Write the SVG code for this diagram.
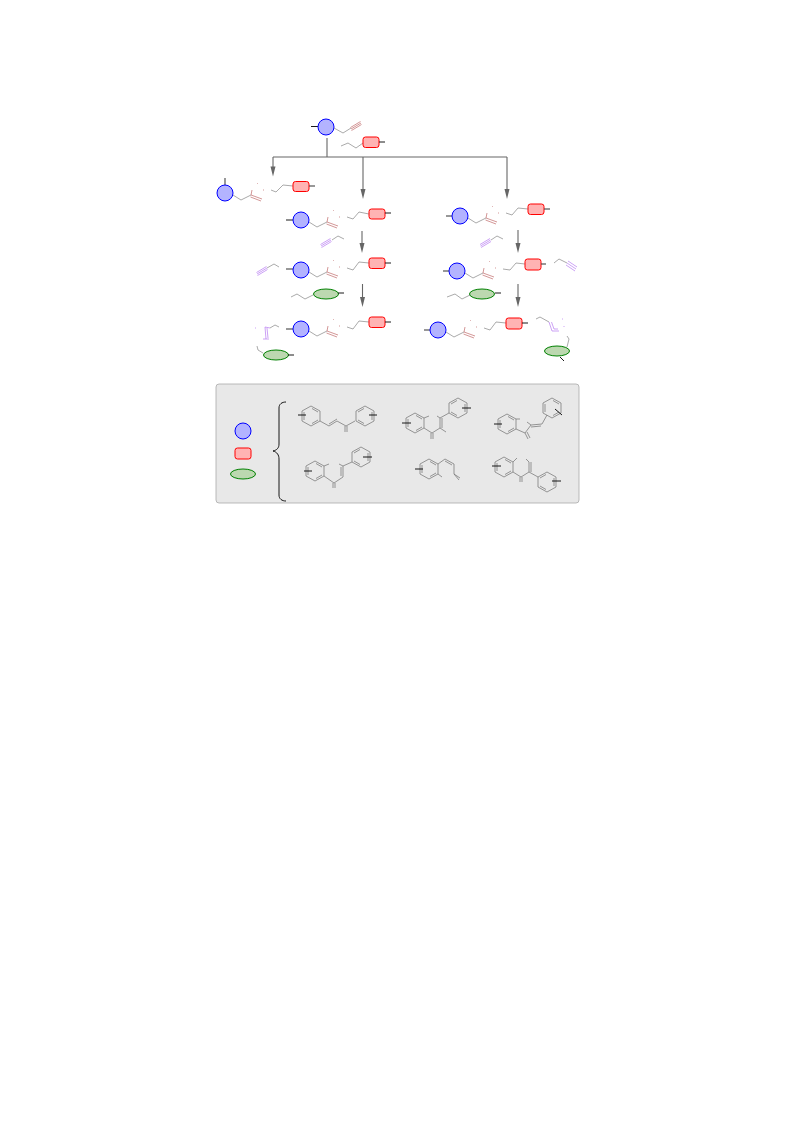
<svg xmlns="http://www.w3.org/2000/svg" width="793" height="1121" viewBox="0 0 793 1121">
<style>
.b{fill:#b3b3ff;stroke:#0000ff;stroke-width:1}
.r{fill:#ffb3b3;stroke:#ff0000;stroke-width:1}
.g{fill:#bcd8b0;stroke:#008000;stroke-width:1}
.t{fill:none;stroke:#000;stroke-width:.9}
.tg{fill:none;stroke:#444;stroke-width:1.1}
.c{fill:none;stroke:#707070;stroke-width:.6}
.m{fill:none;stroke:#c06a6a;stroke-width:.7}
.v{fill:none;stroke:#b070f0;stroke-width:.65}
.a{fill:none;stroke:#666;stroke-width:1.1}
.k{fill:none;stroke:#777;stroke-width:.75}
</style>
<defs>
<g id="core">
<path class="c" d="M8 2L16 7L26 2"/>
<path class="m" d="M26 2L27-3M26 2L37 6M25.500 4L36 8"/>
<path class="m" stroke-dasharray="1 1" d="M32-10L33-9M38-3L39-3"/>
</g>
<g id="hex"><path class="k" d="M0-10L9-5V5L0 10L-9 5V-5ZM1-7.500L7-4M7 4L1 7.500M-7 4V-4"/></g>
<g id="hexr"><path class="k" d="M0-10L9-5V5L0 10L-9 5V-5ZM-1-7.500L-7-4M-7 4L-1 7.500M7 4V-4"/></g>
<g id="triv"><path class="v" d="M0 0L10-6M.5 1.500L10.500-4.500M-.5-1.500L9.500-7.500"/></g>
</defs>

<g id="connectors">
<path class="a" d="M327 138V157M273 157H507"/>
<path class="a" d="M273 157V168"/><path d="M273 176.500L270.500 166.500H275.500Z" fill="#666"/>
<path class="a" d="M363 157V190"/><path d="M363 199L360.500 189H365.500Z" fill="#666"/>
<path class="a" d="M507 157V190"/><path d="M507 199L504.500 189H509.500Z" fill="#666"/>
<path class="a" d="M362 231V244"/><path d="M362 253L359.500 243H364.500Z" fill="#666"/>
<path class="a" d="M518 230V244"/><path d="M518 253L515.500 243H520.500Z" fill="#666"/>
<path class="a" d="M362.500 284V298"/><path d="M362.500 307L360 297H365Z" fill="#666"/>
<path class="a" d="M518 284V298"/><path d="M518 307L515.500 297H520.500Z" fill="#666"/>
</g>

<g id="n-top">
<path class="t" d="M311 126.500H318"/>
<circle class="b" cx="326" cy="127" r="8"/>
<path class="c" d="M334 128L343 133L351 128"/>
<path class="m" d="M351 129L361 123M351.500 130.500L361.500 124.500M350.500 127.500L360.500 121.500"/>
</g>
<g id="n-top-linker">
<path class="c" d="M341 146L348 143L356 148L363 143"/>
<rect class="r" x="363" y="137" width="16" height="10.500" rx="2.500"/>
<path class="t" d="M379 142H385"/>
</g>

<g id="n-a">
<path class="tg" d="M225 178V185"/>
<circle class="b" cx="225" cy="193" r="8"/>
<use href="#core" x="225" y="193"/>
<path class="c" d="M271 190L276 192L283 185L293 186"/>
<rect class="r" x="293" y="181.500" width="16" height="10" rx="2.500"/>
<path class="tg" d="M309 186H315"/>
</g>

<g id="n-b1">
<path class="t" d="M286 220H293"/>
<circle class="b" cx="301" cy="220" r="8"/>
<use href="#core" x="301" y="220"/>
<path class="c" d="M347 217L353 219L359 212L369 214"/>
<rect class="r" x="369" y="209" width="16" height="10" rx="2.500"/>
<path class="t" d="M385 213H391"/>
</g>
<g id="n-b1-alkyne">
<use href="#triv" x="321" y="246"/>
<path class="c" d="M332 240L338 236L344 239"/>
</g>

<g id="n-b2">
<path class="tg" d="M446 216H452"/>
<circle class="b" cx="460" cy="216" r="8"/>
<use href="#core" x="460" y="216"/>
<path class="c" d="M506 213L512 215L518 208L528 209"/>
<rect class="r" x="528" y="204" width="16" height="10.500" rx="2.500"/>
<path class="tg" d="M544 209H550"/>
</g>
<g id="n-b2-alkyne">
<use href="#triv" x="480.500" y="246"/>
<path class="c" d="M491 240L497 236L503 239"/>
</g>

<g id="n-c1">
<use href="#triv" x="257" y="274"/>
<path class="c" d="M267 268L274 264L279 267"/>
<path class="tg" d="M286 269H293"/>
<circle class="b" cx="301" cy="270" r="8"/>
<use href="#core" x="301" y="270"/>
<path class="c" d="M347 268L353 270L359 262L369 263"/>
<rect class="r" x="369" y="258" width="16" height="10.500" rx="2.500"/>
<path class="t" d="M385 263H391"/>
</g>
<g id="n-c1-green">
<path class="c" d="M291 297L297 294L305 299L313 295"/>
<ellipse class="g" cx="326" cy="294" rx="12.500" ry="5"/>
<path class="t" d="M338 293H344"/>
</g>

<g id="n-c2">
<path class="tg" d="M443 271H449"/>
<circle class="b" cx="457" cy="271" r="8"/>
<use href="#core" x="457" y="271"/>
<path class="c" d="M503 269L510 270L516 263L525 264"/>
<rect class="r" x="525" y="259" width="16" height="11" rx="2.500"/>
<path class="tg" d="M541 264H546"/>
<path class="c" d="M554 263L559 259L567 263"/>
<path class="v" d="M567 263L576 269M566 265L575 271M568 261L577 267"/>
</g>
<g id="n-c2-green">
<path class="c" d="M447 297L455 294L462 299L470 295"/>
<ellipse class="g" cx="482" cy="294" rx="12.500" ry="5"/>
<path class="t" d="M495 293H501"/>
</g>

<g id="n-d1">
<path class="c" d="M270 328L275 325L279 327"/>
<path class="v" d="M270 328L265 327M265 327L266 339M267 328L268 338M263 339H269M255 328L256 328"/>
<path class="tg" d="M286 329H293"/>
<circle class="b" cx="301" cy="329" r="8"/>
<use href="#core" x="301" y="329"/>
<path class="c" d="M347 327L353 329L359 321L369 322"/>
<rect class="r" x="369" y="317" width="16" height="10.500" rx="2.500"/>
<path class="t" d="M385 322H391"/>
</g>
<g id="n-d1-green">
<path class="c" d="M257 346L258 350L263 353"/>
<ellipse class="g" cx="276" cy="355" rx="12.500" ry="5"/>
<path class="t" d="M288 355H294"/>
</g>

<g id="n-d2">
<path class="tg" d="M424 330H430"/>
<circle class="b" cx="438" cy="330" r="8"/>
<use href="#core" x="438" y="330"/>
<path class="c" d="M484 328L490 330L496 322L506 323"/>
<rect class="r" x="506" y="318" width="16" height="11" rx="2.500"/>
<path class="t" d="M522 323H528"/>
</g>
<g id="n-d2-triazole">
<path class="c" d="M536 319L540 317L549 322"/>
<path class="v" d="M549 322L552 331H559M551.500 322L554 329H558"/>
<path class="v" stroke-dasharray="1 1" d="M562 319L563 319M564 326L564 327"/>
<path class="c" d="M567 336L569 339L567 347"/>
<ellipse class="g" cx="557" cy="351" rx="12.500" ry="5"/>
<path class="t" d="M560 357L564 361"/>
</g>

<g id="legend">
<rect x="216" y="384" width="363" height="119" rx="3" fill="#e8e8e8" stroke="#aaa" stroke-width=".8"/>
<circle class="b" cx="243" cy="431" r="8"/>
<rect class="r" x="235" y="448" width="16" height="11" rx="2.500"/>
<ellipse class="g" cx="243" cy="474" rx="12.500" ry="5"/>
<path fill="none" stroke="#000" stroke-width=".9" d="M286 402C282 402 279 404 279 408V444C279 448 277 450 273 451C277 452 279 455 279 459V495C279 499 282 501 286 501"/>
</g>

<g id="mol-1">
<use href="#hex" x="311" y="416"/><use href="#hexr" x="365" y="416"/>
<path class="k" d="M320 421L329 426L337 421L346 426L355 421M329 424L337 419M345 426V432M347 426V432"/>
<path class="t" d="M298 415H306M369 415H377"/>
</g>
<g id="mol-2">
<use href="#hex" x="415" y="423"/><use href="#hexr" x="458" y="408"/>
<path class="k" d="M424 418L429 416M437 416L440 418V428L432 433L424 428M442 418V428M431 433V439M433 433V439M440 428L446 432M440 418L449 413"/>
<path class="t" d="M402 423H411M462 408H471"/>
</g>
<g id="mol-3">
<use href="#hex" x="507" y="424"/><use href="#hex" x="552" y="408"/>
<path class="k" d="M516 419L520 419M527 422L531 425L525 433L516 429M525 433L528 439M527 432L530 438M531 425L542 424M531 427L541 426M542 424L547 415"/>
<path class="t" d="M494 424H502M555 409L562 415"/>
</g>
<g id="mol-4">
<use href="#hex" x="315" y="471"/><use href="#hexr" x="361" y="457"/>
<path class="k" d="M324 466L329 464M339 464L343 466V477L334 483L324 476M341 467V476M333 483V488M335 483V488M343 466L352 462"/>
<path class="t" d="M304 471H312M363 457H372"/>
</g>
<g id="mol-5">
<use href="#hex" x="429" y="469"/>
<path class="k" d="M438 464L445 459L454 464V474L460 478M445 461L452 465M454 474L459 480M438 474L442 477"/>
<path class="t" d="M415 469H423"/>
</g>
<g id="mol-6">
<use href="#hex" x="504" y="467"/><use href="#hexr" x="547" y="482"/>
<path class="k" d="M513 462L517 458M526 459L529 462V472L521 477L513 472M531 462V472M520 477V482M522 477V482M529 472L538 477"/>
<path class="t" d="M492 466H501M552 481H561"/>
</g>
</svg>
